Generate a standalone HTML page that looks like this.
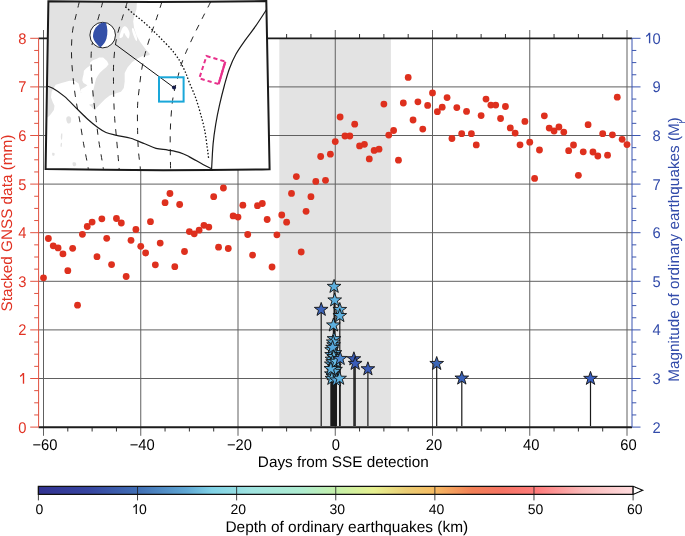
<!DOCTYPE html><html><head><meta charset="utf-8"><style>html,body{margin:0;padding:0;background:#fff}svg{display:block;will-change:transform}text{font-family:"Liberation Sans",sans-serif;text-rendering:geometricPrecision}</style></head><body>
<svg width="685" height="536" viewBox="0 0 685 536">
<rect width="685" height="536" fill="#fff"/>
<rect x="279.3" y="38.30" width="111.60" height="388.80" fill="#e3e3e3"/>
<path d="M38.6,378.50H632 M38.6,329.90H632 M38.6,281.30H632 M38.6,232.70H632 M38.6,184.10H632 M38.6,135.50H632 M38.6,86.90H632 M43.50,30V435.8 M140.75,30V435.8 M238.00,30V435.8 M335.25,30V435.8 M432.50,30V435.8 M529.75,30V435.8 M627.00,30V435.8" stroke="#606060" stroke-width="1" fill="none"/>
<path d="M67.81,427.10V431.5 M67.81,38.30V34 M92.12,427.10V431.5 M92.12,38.30V34 M116.44,427.10V431.5 M116.44,38.30V34 M165.06,427.10V431.5 M165.06,38.30V34 M189.38,427.10V431.5 M189.38,38.30V34 M213.69,427.10V431.5 M213.69,38.30V34 M262.31,427.10V431.5 M262.31,38.30V34 M286.62,427.10V431.5 M286.62,38.30V34 M310.94,427.10V431.5 M310.94,38.30V34 M359.56,427.10V431.5 M359.56,38.30V34 M383.88,427.10V431.5 M383.88,38.30V34 M408.19,427.10V431.5 M408.19,38.30V34 M456.81,427.10V431.5 M456.81,38.30V34 M481.12,427.10V431.5 M481.12,38.30V34 M505.44,427.10V431.5 M505.44,38.30V34 M554.06,427.10V431.5 M554.06,38.30V34 M578.38,427.10V431.5 M578.38,38.30V34 M602.69,427.10V431.5 M602.69,38.30V34" stroke="#333" stroke-width="1" fill="none"/>
<path d="M38.6,427.25H632 M38.6,38.30H632" stroke="#1c1c1c" stroke-width="1.8" fill="none"/>
<path d="M38.6,38.30V427.10 M30.2,427.10H38.6 M34.2,414.95H38.6 M34.2,402.80H38.6 M34.2,390.65H38.6 M30.2,378.50H38.6 M34.2,366.35H38.6 M34.2,354.20H38.6 M34.2,342.05H38.6 M30.2,329.90H38.6 M34.2,317.75H38.6 M34.2,305.60H38.6 M34.2,293.45H38.6 M30.2,281.30H38.6 M34.2,269.15H38.6 M34.2,257.00H38.6 M34.2,244.85H38.6 M30.2,232.70H38.6 M34.2,220.55H38.6 M34.2,208.40H38.6 M34.2,196.25H38.6 M30.2,184.10H38.6 M34.2,171.95H38.6 M34.2,159.80H38.6 M34.2,147.65H38.6 M30.2,135.50H38.6 M34.2,123.35H38.6 M34.2,111.20H38.6 M34.2,99.05H38.6 M30.2,86.90H38.6 M34.2,74.75H38.6 M34.2,62.60H38.6 M34.2,50.45H38.6 M30.2,38.30H38.6" stroke="#e1503f" stroke-width="1" fill="none"/>
<path d="M632,38.30V427.10 M632,427.10H640.5 M632,414.95H636.3 M632,402.80H636.3 M632,390.65H636.3 M632,378.50H640.5 M632,366.35H636.3 M632,354.20H636.3 M632,342.05H636.3 M632,329.90H640.5 M632,317.75H636.3 M632,305.60H636.3 M632,293.45H636.3 M632,281.30H640.5 M632,269.15H636.3 M632,257.00H636.3 M632,244.85H636.3 M632,232.70H640.5 M632,220.55H636.3 M632,208.40H636.3 M632,196.25H636.3 M632,184.10H640.5 M632,171.95H636.3 M632,159.80H636.3 M632,147.65H636.3 M632,135.50H640.5 M632,123.35H636.3 M632,111.20H636.3 M632,99.05H636.3 M632,86.90H640.5 M632,74.75H636.3 M632,62.60H636.3 M632,50.45H636.3 M632,38.30H640.5" stroke="#3b55b0" stroke-width="1" fill="none"/>
<text transform="translate(26.5,432.60) scale(0.95,1)" font-size="15.5" fill="#e13223" text-anchor="end">0</text>
<path d="M23.50,383.70V373.00" stroke="#e13223" stroke-width="1.35" fill="none"/><path d="M23.30,373.30 Q22.30,375.40 20.10,376.30" stroke="#e13223" stroke-width="1.3" fill="none"/>
<text transform="translate(26.5,335.40) scale(0.95,1)" font-size="15.5" fill="#e13223" text-anchor="end">2</text>
<text transform="translate(26.5,286.80) scale(0.95,1)" font-size="15.5" fill="#e13223" text-anchor="end">3</text>
<text transform="translate(26.5,238.20) scale(0.95,1)" font-size="15.5" fill="#e13223" text-anchor="end">4</text>
<text transform="translate(26.5,189.60) scale(0.95,1)" font-size="15.5" fill="#e13223" text-anchor="end">5</text>
<text transform="translate(26.5,141.00) scale(0.95,1)" font-size="15.5" fill="#e13223" text-anchor="end">6</text>
<text transform="translate(26.5,92.40) scale(0.95,1)" font-size="15.5" fill="#e13223" text-anchor="end">7</text>
<text transform="translate(26.5,43.80) scale(0.95,1)" font-size="15.5" fill="#e13223" text-anchor="end">8</text>
<text transform="translate(660.6,432.60) scale(0.95,1)" font-size="15.5" fill="#324baa" text-anchor="end">2</text>
<text transform="translate(660.6,384.00) scale(0.95,1)" font-size="15.5" fill="#324baa" text-anchor="end">3</text>
<text transform="translate(660.6,335.40) scale(0.95,1)" font-size="15.5" fill="#324baa" text-anchor="end">4</text>
<text transform="translate(660.6,286.80) scale(0.95,1)" font-size="15.5" fill="#324baa" text-anchor="end">5</text>
<text transform="translate(660.6,238.20) scale(0.95,1)" font-size="15.5" fill="#324baa" text-anchor="end">6</text>
<text transform="translate(660.6,189.60) scale(0.95,1)" font-size="15.5" fill="#324baa" text-anchor="end">7</text>
<text transform="translate(660.6,141.00) scale(0.95,1)" font-size="15.5" fill="#324baa" text-anchor="end">8</text>
<text transform="translate(660.6,92.40) scale(0.95,1)" font-size="15.5" fill="#324baa" text-anchor="end">9</text>
<text transform="translate(660.6,43.80) scale(0.95,1)" font-size="15.5" fill="#324baa" text-anchor="end">0</text>
<path d="M649.60,43.30V32.80" stroke="#324baa" stroke-width="1.35" fill="none"/><path d="M649.40,33.10 Q648.40,35.50 646.20,36.40" stroke="#324baa" stroke-width="1.3" fill="none"/>
<text transform="translate(44.90,450) scale(0.95,1)" font-size="15.5" fill="#000" text-anchor="middle">&#8722;60</text>
<text transform="translate(142.15,450) scale(0.95,1)" font-size="15.5" fill="#000" text-anchor="middle">&#8722;40</text>
<text transform="translate(239.40,450) scale(0.95,1)" font-size="15.5" fill="#000" text-anchor="middle">&#8722;20</text>
<text transform="translate(335.75,450) scale(0.95,1)" font-size="15.5" fill="#000" text-anchor="middle">0</text>
<text transform="translate(433.90,450) scale(0.95,1)" font-size="15.5" fill="#000" text-anchor="middle">20</text>
<text transform="translate(531.15,450) scale(0.95,1)" font-size="15.5" fill="#000" text-anchor="middle">40</text>
<text transform="translate(628.40,450) scale(0.95,1)" font-size="15.5" fill="#000" text-anchor="middle">60</text>
<text transform="translate(343.3,467.4)" font-size="15.3" fill="#000" text-anchor="middle">Days from SSE detection</text>
<text transform="translate(11.7,223.1) rotate(-90)" font-size="15.3" fill="#e13223" text-anchor="middle">Stacked GNSS data (mm)</text>
<text transform="translate(678.5,249.6) rotate(-90)" font-size="15.3" fill="#324baa" text-anchor="middle">Magnitude of ordinary earthquakes (M<tspan font-size="9.5" dy="5.5" dx="-0.3">j</tspan><tspan dy="-5.5" dx="-1.2">)</tspan></text>
<g fill="#de301e">
<circle cx="43.50" cy="277.80" r="3.4"/>
<circle cx="48.36" cy="238.50" r="3.4"/>
<circle cx="53.23" cy="245.80" r="3.4"/>
<circle cx="58.09" cy="247.90" r="3.4"/>
<circle cx="62.95" cy="253.90" r="3.4"/>
<circle cx="67.81" cy="270.70" r="3.4"/>
<circle cx="72.67" cy="248.30" r="3.4"/>
<circle cx="77.54" cy="305.20" r="3.4"/>
<circle cx="82.40" cy="234.30" r="3.4"/>
<circle cx="87.26" cy="226.50" r="3.4"/>
<circle cx="92.12" cy="222.10" r="3.4"/>
<circle cx="96.99" cy="256.70" r="3.4"/>
<circle cx="101.85" cy="218.80" r="3.4"/>
<circle cx="106.71" cy="238.30" r="3.4"/>
<circle cx="111.58" cy="264.60" r="3.4"/>
<circle cx="116.44" cy="218.50" r="3.4"/>
<circle cx="121.30" cy="223.00" r="3.4"/>
<circle cx="126.16" cy="276.50" r="3.4"/>
<circle cx="131.02" cy="240.30" r="3.4"/>
<circle cx="135.89" cy="229.50" r="3.4"/>
<circle cx="140.75" cy="246.30" r="3.4"/>
<circle cx="145.61" cy="253.00" r="3.4"/>
<circle cx="150.47" cy="221.70" r="3.4"/>
<circle cx="155.34" cy="264.80" r="3.4"/>
<circle cx="160.20" cy="243.10" r="3.4"/>
<circle cx="165.06" cy="202.70" r="3.4"/>
<circle cx="169.93" cy="193.50" r="3.4"/>
<circle cx="174.79" cy="266.70" r="3.4"/>
<circle cx="179.65" cy="204.50" r="3.4"/>
<circle cx="184.51" cy="251.50" r="3.4"/>
<circle cx="189.38" cy="231.60" r="3.4"/>
<circle cx="194.24" cy="233.80" r="3.4"/>
<circle cx="199.10" cy="230.20" r="3.4"/>
<circle cx="203.96" cy="225.30" r="3.4"/>
<circle cx="208.82" cy="227.10" r="3.4"/>
<circle cx="213.69" cy="196.70" r="3.4"/>
<circle cx="218.55" cy="247.20" r="3.4"/>
<circle cx="223.41" cy="188.00" r="3.4"/>
<circle cx="228.28" cy="248.50" r="3.4"/>
<circle cx="233.14" cy="215.90" r="3.4"/>
<circle cx="238.00" cy="217.10" r="3.4"/>
<circle cx="242.86" cy="205.20" r="3.4"/>
<circle cx="247.72" cy="234.50" r="3.4"/>
<circle cx="252.59" cy="255.10" r="3.4"/>
<circle cx="257.45" cy="205.70" r="3.4"/>
<circle cx="262.31" cy="203.50" r="3.4"/>
<circle cx="267.17" cy="219.50" r="3.4"/>
<circle cx="272.04" cy="267.00" r="3.4"/>
<circle cx="276.90" cy="234.80" r="3.4"/>
<circle cx="281.76" cy="215.00" r="3.4"/>
<circle cx="286.62" cy="222.20" r="3.4"/>
<circle cx="291.49" cy="193.40" r="3.4"/>
<circle cx="296.35" cy="176.60" r="3.4"/>
<circle cx="301.21" cy="252.00" r="3.4"/>
<circle cx="306.07" cy="211.30" r="3.4"/>
<circle cx="310.94" cy="196.70" r="3.4"/>
<circle cx="315.80" cy="181.40" r="3.4"/>
<circle cx="320.66" cy="156.50" r="3.4"/>
<circle cx="325.52" cy="180.30" r="3.4"/>
<circle cx="330.39" cy="154.20" r="3.4"/>
<circle cx="335.25" cy="141.60" r="3.4"/>
<circle cx="340.11" cy="117.00" r="3.4"/>
<circle cx="344.97" cy="136.00" r="3.4"/>
<circle cx="349.84" cy="136.00" r="3.4"/>
<circle cx="354.70" cy="124.20" r="3.4"/>
<circle cx="359.56" cy="145.90" r="3.4"/>
<circle cx="364.43" cy="144.30" r="3.4"/>
<circle cx="369.29" cy="158.90" r="3.4"/>
<circle cx="374.15" cy="150.40" r="3.4"/>
<circle cx="379.01" cy="149.20" r="3.4"/>
<circle cx="383.88" cy="104.10" r="3.4"/>
<circle cx="388.74" cy="135.10" r="3.4"/>
<circle cx="393.60" cy="130.50" r="3.4"/>
<circle cx="398.46" cy="160.20" r="3.4"/>
<circle cx="403.32" cy="103.00" r="3.4"/>
<circle cx="408.19" cy="77.40" r="3.4"/>
<circle cx="413.05" cy="120.00" r="3.4"/>
<circle cx="417.91" cy="101.80" r="3.4"/>
<circle cx="422.77" cy="129.10" r="3.4"/>
<circle cx="427.64" cy="105.40" r="3.4"/>
<circle cx="432.50" cy="92.90" r="3.4"/>
<circle cx="437.36" cy="111.70" r="3.4"/>
<circle cx="442.22" cy="107.20" r="3.4"/>
<circle cx="447.09" cy="97.60" r="3.4"/>
<circle cx="451.95" cy="138.50" r="3.4"/>
<circle cx="456.81" cy="107.60" r="3.4"/>
<circle cx="461.68" cy="133.70" r="3.4"/>
<circle cx="466.54" cy="111.40" r="3.4"/>
<circle cx="471.40" cy="133.70" r="3.4"/>
<circle cx="476.26" cy="144.90" r="3.4"/>
<circle cx="481.12" cy="115.60" r="3.4"/>
<circle cx="485.99" cy="99.10" r="3.4"/>
<circle cx="490.85" cy="105.10" r="3.4"/>
<circle cx="495.71" cy="105.10" r="3.4"/>
<circle cx="500.57" cy="118.50" r="3.4"/>
<circle cx="505.44" cy="106.50" r="3.4"/>
<circle cx="510.30" cy="127.90" r="3.4"/>
<circle cx="515.16" cy="133.10" r="3.4"/>
<circle cx="520.02" cy="144.80" r="3.4"/>
<circle cx="524.89" cy="121.40" r="3.4"/>
<circle cx="529.75" cy="142.20" r="3.4"/>
<circle cx="534.61" cy="178.40" r="3.4"/>
<circle cx="539.47" cy="150.00" r="3.4"/>
<circle cx="544.34" cy="115.80" r="3.4"/>
<circle cx="549.20" cy="128.10" r="3.4"/>
<circle cx="554.06" cy="131.00" r="3.4"/>
<circle cx="558.92" cy="127.00" r="3.4"/>
<circle cx="563.79" cy="132.10" r="3.4"/>
<circle cx="568.65" cy="150.70" r="3.4"/>
<circle cx="573.51" cy="145.00" r="3.4"/>
<circle cx="578.38" cy="175.30" r="3.4"/>
<circle cx="583.24" cy="151.80" r="3.4"/>
<circle cx="588.10" cy="124.70" r="3.4"/>
<circle cx="592.96" cy="152.00" r="3.4"/>
<circle cx="597.82" cy="156.00" r="3.4"/>
<circle cx="602.69" cy="133.70" r="3.4"/>
<circle cx="607.55" cy="155.20" r="3.4"/>
<circle cx="612.41" cy="134.80" r="3.4"/>
<circle cx="617.27" cy="97.20" r="3.4"/>
<circle cx="622.14" cy="139.30" r="3.4"/>
<circle cx="627.00" cy="144.60" r="3.4"/>
</g>
<path d="M321.20,309.60V426.10 M339.80,309.70V426.10 M339.80,315.80V426.10 M334.10,286.60V426.10 M334.70,300.20V426.10 M333.40,325.20V426.10 M334.00,338.90V426.10 M333.60,345.00V426.10 M331.60,349.90V426.10 M335.00,352.90V426.10 M331.60,354.80V426.10 M332.00,359.40V426.10 M331.30,364.30V426.10 M334.50,366.50V426.10 M335.50,369.60V426.10 M331.40,374.10V426.10 M333.00,376.50V426.10 M333.20,342.20V426.10 M332.60,347.60V426.10 M333.80,356.80V426.10 M332.60,362.00V426.10 M334.20,371.60V426.10 M331.90,378.60V426.10 M336.40,380.20V426.10 M330.90,368.80V426.10 M336.20,361.50V426.10 M340.20,358.70V426.10 M339.60,378.50V426.10 M353.90,359.00V426.10 M355.20,363.60V426.10 M367.90,369.00V426.10 M436.70,363.70V426.10 M461.80,378.30V426.10 M590.50,378.60V426.10" stroke="#1a1a1a" stroke-width="1.2" fill="none"/>
<path d="M321.20,302.40 L322.88,307.29 L328.05,307.38 L323.91,310.48 L325.43,315.42 L321.20,312.45 L316.97,315.42 L318.49,310.48 L314.35,307.38 L319.52,307.29Z" fill="#3c64b9" stroke="#111" stroke-width="0.9" stroke-linejoin="miter"/>
<path d="M339.80,302.50 L341.48,307.39 L346.65,307.48 L342.51,310.58 L344.03,315.52 L339.80,312.55 L335.57,315.52 L337.09,310.58 L332.95,307.48 L338.12,307.39Z" fill="#5eb0de" stroke="#111" stroke-width="0.9" stroke-linejoin="miter"/>
<path d="M339.80,308.60 L341.48,313.49 L346.65,313.58 L342.51,316.68 L344.03,321.62 L339.80,318.65 L335.57,321.62 L337.09,316.68 L332.95,313.58 L338.12,313.49Z" fill="#5eb0de" stroke="#111" stroke-width="0.9" stroke-linejoin="miter"/>
<path d="M334.10,279.40 L335.78,284.29 L340.95,284.38 L336.81,287.48 L338.33,292.42 L334.10,289.45 L329.87,292.42 L331.39,287.48 L327.25,284.38 L332.42,284.29Z" fill="#5eb0de" stroke="#111" stroke-width="0.9" stroke-linejoin="miter"/>
<path d="M334.70,293.00 L336.38,297.89 L341.55,297.98 L337.41,301.08 L338.93,306.02 L334.70,303.05 L330.47,306.02 L331.99,301.08 L327.85,297.98 L333.02,297.89Z" fill="#5eb0de" stroke="#111" stroke-width="0.9" stroke-linejoin="miter"/>
<path d="M333.40,318.00 L335.08,322.89 L340.25,322.98 L336.11,326.08 L337.63,331.02 L333.40,328.05 L329.17,331.02 L330.69,326.08 L326.55,322.98 L331.72,322.89Z" fill="#5eb0de" stroke="#111" stroke-width="0.9" stroke-linejoin="miter"/>
<path d="M334.00,331.70 L335.68,336.59 L340.85,336.68 L336.71,339.78 L338.23,344.72 L334.00,341.75 L329.77,344.72 L331.29,339.78 L327.15,336.68 L332.32,336.59Z" fill="#5eb0de" stroke="#111" stroke-width="0.9" stroke-linejoin="miter"/>
<path d="M333.60,337.80 L335.28,342.69 L340.45,342.78 L336.31,345.88 L337.83,350.82 L333.60,347.85 L329.37,350.82 L330.89,345.88 L326.75,342.78 L331.92,342.69Z" fill="#56a6da" stroke="#111" stroke-width="0.9" stroke-linejoin="miter"/>
<path d="M331.60,342.70 L333.28,347.59 L338.45,347.68 L334.31,350.78 L335.83,355.72 L331.60,352.75 L327.37,355.72 L328.89,350.78 L324.75,347.68 L329.92,347.59Z" fill="#66bae4" stroke="#111" stroke-width="0.9" stroke-linejoin="miter"/>
<path d="M335.00,345.70 L336.68,350.59 L341.85,350.68 L337.71,353.78 L339.23,358.72 L335.00,355.75 L330.77,358.72 L332.29,353.78 L328.15,350.68 L333.32,350.59Z" fill="#5eb0de" stroke="#111" stroke-width="0.9" stroke-linejoin="miter"/>
<path d="M331.60,347.60 L333.28,352.49 L338.45,352.58 L334.31,355.68 L335.83,360.62 L331.60,357.65 L327.37,360.62 L328.89,355.68 L324.75,352.58 L329.92,352.49Z" fill="#56a6da" stroke="#111" stroke-width="0.9" stroke-linejoin="miter"/>
<path d="M332.00,352.20 L333.68,357.09 L338.85,357.18 L334.71,360.28 L336.23,365.22 L332.00,362.25 L327.77,365.22 L329.29,360.28 L325.15,357.18 L330.32,357.09Z" fill="#66bae4" stroke="#111" stroke-width="0.9" stroke-linejoin="miter"/>
<path d="M331.30,357.10 L332.98,361.99 L338.15,362.08 L334.01,365.18 L335.53,370.12 L331.30,367.15 L327.07,370.12 L328.59,365.18 L324.45,362.08 L329.62,361.99Z" fill="#5eb0de" stroke="#111" stroke-width="0.9" stroke-linejoin="miter"/>
<path d="M334.50,359.30 L336.18,364.19 L341.35,364.28 L337.21,367.38 L338.73,372.32 L334.50,369.35 L330.27,372.32 L331.79,367.38 L327.65,364.28 L332.82,364.19Z" fill="#56a6da" stroke="#111" stroke-width="0.9" stroke-linejoin="miter"/>
<path d="M335.50,362.40 L337.18,367.29 L342.35,367.38 L338.21,370.48 L339.73,375.42 L335.50,372.45 L331.27,375.42 L332.79,370.48 L328.65,367.38 L333.82,367.29Z" fill="#66bae4" stroke="#111" stroke-width="0.9" stroke-linejoin="miter"/>
<path d="M331.40,366.90 L333.08,371.79 L338.25,371.88 L334.11,374.98 L335.63,379.92 L331.40,376.95 L327.17,379.92 L328.69,374.98 L324.55,371.88 L329.72,371.79Z" fill="#56a6da" stroke="#111" stroke-width="0.9" stroke-linejoin="miter"/>
<path d="M333.00,369.30 L334.68,374.19 L339.85,374.28 L335.71,377.38 L337.23,382.32 L333.00,379.35 L328.77,382.32 L330.29,377.38 L326.15,374.28 L331.32,374.19Z" fill="#5eb0de" stroke="#111" stroke-width="0.9" stroke-linejoin="miter"/>
<path d="M333.20,335.00 L334.88,339.89 L340.05,339.98 L335.91,343.08 L337.43,348.02 L333.20,345.05 L328.97,348.02 L330.49,343.08 L326.35,339.98 L331.52,339.89Z" fill="#5eb0de" stroke="#111" stroke-width="0.9" stroke-linejoin="miter"/>
<path d="M332.60,340.40 L334.28,345.29 L339.45,345.38 L335.31,348.48 L336.83,353.42 L332.60,350.45 L328.37,353.42 L329.89,348.48 L325.75,345.38 L330.92,345.29Z" fill="#56a6da" stroke="#111" stroke-width="0.9" stroke-linejoin="miter"/>
<path d="M333.80,349.60 L335.48,354.49 L340.65,354.58 L336.51,357.68 L338.03,362.62 L333.80,359.65 L329.57,362.62 L331.09,357.68 L326.95,354.58 L332.12,354.49Z" fill="#66bae4" stroke="#111" stroke-width="0.9" stroke-linejoin="miter"/>
<path d="M332.60,354.80 L334.28,359.69 L339.45,359.78 L335.31,362.88 L336.83,367.82 L332.60,364.85 L328.37,367.82 L329.89,362.88 L325.75,359.78 L330.92,359.69Z" fill="#56a6da" stroke="#111" stroke-width="0.9" stroke-linejoin="miter"/>
<path d="M334.20,364.40 L335.88,369.29 L341.05,369.38 L336.91,372.48 L338.43,377.42 L334.20,374.45 L329.97,377.42 L331.49,372.48 L327.35,369.38 L332.52,369.29Z" fill="#5eb0de" stroke="#111" stroke-width="0.9" stroke-linejoin="miter"/>
<path d="M331.90,371.40 L333.58,376.29 L338.75,376.38 L334.61,379.48 L336.13,384.42 L331.90,381.45 L327.67,384.42 L329.19,379.48 L325.05,376.38 L330.22,376.29Z" fill="#66bae4" stroke="#111" stroke-width="0.9" stroke-linejoin="miter"/>
<path d="M336.40,373.00 L338.08,377.89 L343.25,377.98 L339.11,381.08 L340.63,386.02 L336.40,383.05 L332.17,386.02 L333.69,381.08 L329.55,377.98 L334.72,377.89Z" fill="#56a6da" stroke="#111" stroke-width="0.9" stroke-linejoin="miter"/>
<path d="M330.90,361.60 L332.58,366.49 L337.75,366.58 L333.61,369.68 L335.13,374.62 L330.90,371.65 L326.67,374.62 L328.19,369.68 L324.05,366.58 L329.22,366.49Z" fill="#5eb0de" stroke="#111" stroke-width="0.9" stroke-linejoin="miter"/>
<path d="M336.20,354.30 L337.88,359.19 L343.05,359.28 L338.91,362.38 L340.43,367.32 L336.20,364.35 L331.97,367.32 L333.49,362.38 L329.35,359.28 L334.52,359.19Z" fill="#66bae4" stroke="#111" stroke-width="0.9" stroke-linejoin="miter"/>
<path d="M340.20,351.50 L341.88,356.39 L347.05,356.48 L342.91,359.58 L344.43,364.52 L340.20,361.55 L335.97,364.52 L337.49,359.58 L333.35,356.48 L338.52,356.39Z" fill="#4a88d0" stroke="#111" stroke-width="0.9" stroke-linejoin="miter"/>
<path d="M339.60,371.30 L341.28,376.19 L346.45,376.28 L342.31,379.38 L343.83,384.32 L339.60,381.35 L335.37,384.32 L336.89,379.38 L332.75,376.28 L337.92,376.19Z" fill="#5eb0de" stroke="#111" stroke-width="0.9" stroke-linejoin="miter"/>
<path d="M353.90,351.80 L355.58,356.69 L360.75,356.78 L356.61,359.88 L358.13,364.82 L353.90,361.85 L349.67,364.82 L351.19,359.88 L347.05,356.78 L352.22,356.69Z" fill="#3a5cb8" stroke="#111" stroke-width="0.9" stroke-linejoin="miter"/>
<path d="M355.20,356.40 L356.88,361.29 L362.05,361.38 L357.91,364.48 L359.43,369.42 L355.20,366.45 L350.97,369.42 L352.49,364.48 L348.35,361.38 L353.52,361.29Z" fill="#3a5cb8" stroke="#111" stroke-width="0.9" stroke-linejoin="miter"/>
<path d="M367.90,361.80 L369.58,366.69 L374.75,366.78 L370.61,369.88 L372.13,374.82 L367.90,371.85 L363.67,374.82 L365.19,369.88 L361.05,366.78 L366.22,366.69Z" fill="#3a5cb8" stroke="#111" stroke-width="0.9" stroke-linejoin="miter"/>
<path d="M436.70,356.50 L438.38,361.39 L443.55,361.48 L439.41,364.58 L440.93,369.52 L436.70,366.55 L432.47,369.52 L433.99,364.58 L429.85,361.48 L435.02,361.39Z" fill="#3e68b8" stroke="#111" stroke-width="0.9" stroke-linejoin="miter"/>
<path d="M461.80,371.10 L463.48,375.99 L468.65,376.08 L464.51,379.18 L466.03,384.12 L461.80,381.15 L457.57,384.12 L459.09,379.18 L454.95,376.08 L460.12,375.99Z" fill="#3a62b8" stroke="#111" stroke-width="0.9" stroke-linejoin="miter"/>
<path d="M590.50,371.40 L592.18,376.29 L597.35,376.38 L593.21,379.48 L594.73,384.42 L590.50,381.45 L586.27,384.42 L587.79,379.48 L583.65,376.38 L588.82,376.29Z" fill="#3a5fc0" stroke="#111" stroke-width="0.9" stroke-linejoin="miter"/>
<defs><linearGradient id="cb" x1="0" x2="1" y1="0" y2="0">
<stop offset="0.0027" stop-color="#323392"/>
<stop offset="0.0834" stop-color="#3644a0"/>
<stop offset="0.1658" stop-color="#406eb4"/>
<stop offset="0.2499" stop-color="#60a8d4"/>
<stop offset="0.2919" stop-color="#80d2e6"/>
<stop offset="0.3592" stop-color="#a0e4e0"/>
<stop offset="0.4432" stop-color="#aeecd0"/>
<stop offset="0.5038" stop-color="#c6f0a8"/>
<stop offset="0.5643" stop-color="#e6f090"/>
<stop offset="0.6198" stop-color="#eacc74"/>
<stop offset="0.6618" stop-color="#f6be64"/>
<stop offset="0.7291" stop-color="#f28056"/>
<stop offset="0.7796" stop-color="#f67464"/>
<stop offset="0.8384" stop-color="#ff7c7c"/>
<stop offset="0.9141" stop-color="#fab8b8"/>
<stop offset="0.9914" stop-color="#fed8da"/>
</linearGradient></defs>
<rect x="38.4" y="486.6" width="594.70" height="7.4" fill="url(#cb)"/>
<path d="M38.40,486.6V500.4 M137.52,486.6V500.4 M236.63,486.6V500.4 M335.75,486.6V500.4 M434.87,486.6V500.4 M533.98,486.6V500.4 M633.10,486.6V500.4" stroke="#222" stroke-width="1" fill="none" opacity="0.85"/>
<path d="M38.4,486.3H633.1 L642.5,490.3 L633.1,494.3 H38.4 Z" fill="none" stroke="#111" stroke-width="1.3"/>
<path d="M633.1,486.9 L641,490.3 L633.1,493.7Z" fill="#fff"/>
<path d="M633.1,486.3V494.3" stroke="#111" stroke-width="1.3"/>
<text x="39.40" y="513.9" font-size="14" fill="#000" text-anchor="middle">0</text>
<text x="146.9" y="513.9" font-size="14" fill="#000" text-anchor="end">0</text>
<path d="M136.30,513.90V504.20" stroke="#111" stroke-width="1.25" fill="none"/><path d="M136.10,504.50 Q135.10,506.40 133.30,507.30" stroke="#111" stroke-width="1.2" fill="none"/>
<text x="238.23" y="513.9" font-size="14" fill="#000" text-anchor="middle">20</text>
<text x="337.35" y="513.9" font-size="14" fill="#000" text-anchor="middle">30</text>
<text x="436.47" y="513.9" font-size="14" fill="#000" text-anchor="middle">40</text>
<text x="535.58" y="513.9" font-size="14" fill="#000" text-anchor="middle">50</text>
<text x="634.70" y="513.9" font-size="14" fill="#000" text-anchor="middle">60</text>
<text transform="translate(346.8,532.3)" font-size="15.45" fill="#000" text-anchor="middle">Depth of ordinary earthquakes (km)</text>
<defs><clipPath id="mc"><path d="M48.4,1.2 Q157.35,2.85 266.3,1.1 L269.6,169.3 Q157.6,171.2 45.6,169.1 Z"/></clipPath></defs>
<path d="M48.4,1.2 Q157.35,2.85 266.3,1.1 L269.6,169.3 Q157.6,171.2 45.6,169.1 Z" fill="#fff"/>
<g clip-path="url(#mc)">
<path d="M40.0,-5.0 L137.5,-5.0 L136.9,2.0 L136.5,9.3 L134.1,15.9 L133.2,21.5 L134.1,28.0 L136.5,35.4 L140.2,42.0 L145.8,49.4 L150.1,54.2 L148.2,55.6 L142.6,56.0 L137.1,58.8 L132.2,61.9 L127.5,67.5 L124.7,73.0 L124.7,81.4 L123.8,88.0 L121.0,91.7 L115.4,93.6 L109.8,95.4 L105.2,99.1 L100.5,103.8 L96.8,107.5 L94.0,109.4 L91.2,106.6 L88.9,104.7 L93.0,103.8 L94.0,101.0 L92.1,96.0 L92.5,91.6 L93.7,88.5 L94.8,83.8 L96.0,79.1 L97.6,75.9 L99.9,72.8 L103.1,69.7 L106.2,67.3 L108.6,64.2 L107.0,61.1 L103.1,57.5 L99.2,57.5 L96.8,58.7 L92.9,60.3 L90.1,62.6 L89.8,65.8 L86.6,68.1 L83.9,70.8 L83.5,74.4 L82.7,77.5 L82.3,80.6 L83.5,83.0 L87.4,85.3 L85.1,86.9 L81.1,89.3 L80.7,92.4 L81.5,93.3 L80.3,90.0 L78.6,83.5 L75.2,81.3 L69.6,80.7 L61.5,82.9 L55.7,84.7 L51.6,91.7 L51.0,97.5 L52.8,102.2 L54.5,105.7 L53.9,110.0 L50.6,114.5 L47.8,117.3 L40.0,118.0Z" fill="#e2e2e2"/>
<path d="M119.50,37.50 C119.33,36.33 120.75,31.83 121.50,30.00 C122.25,28.17 123.08,26.92 124.00,26.50 C124.92,26.08 126.07,26.42 127.00,27.50 C127.93,28.58 129.35,31.17 129.60,33.00 C129.85,34.83 129.10,38.00 128.50,38.50 C127.90,39.00 126.75,36.92 126.00,36.00 C125.25,35.08 124.58,32.83 124.00,33.00 C123.42,33.17 123.25,36.25 122.50,37.00 C121.75,37.75 119.67,38.67 119.50,37.50Z" fill="#fff"/>
<path d="M132.00,29.00 C132.08,28.08 132.75,27.33 133.50,28.50 C134.25,29.67 135.92,34.00 136.50,36.00 C137.08,38.00 137.17,39.83 137.00,40.50 C136.83,41.17 136.17,41.08 135.50,40.00 C134.83,38.92 133.58,35.83 133.00,34.00 C132.42,32.17 131.92,29.92 132.00,29.00Z" fill="#fff"/>
<path d="M66.50,117.50 C66.98,116.73 68.73,116.23 69.50,116.40 C70.27,116.57 70.92,117.48 71.10,118.50 C71.28,119.52 71.12,121.68 70.60,122.50 C70.08,123.32 68.67,123.65 68.00,123.40 C67.33,123.15 66.85,121.98 66.60,121.00 C66.35,120.02 66.02,118.27 66.50,117.50Z" fill="#e2e2e2"/>
<path d="M61.30,133.70 C61.55,133.15 62.15,132.98 62.30,133.70 C62.45,134.42 62.33,136.95 62.20,138.00 C62.07,139.05 61.73,140.17 61.50,140.00 C61.27,139.83 60.83,138.05 60.80,137.00 C60.77,135.95 61.05,134.25 61.30,133.70Z" fill="#e2e2e2"/>
<path d="M61.00,143.00 C61.25,142.58 61.92,142.83 62.00,143.50 C62.08,144.17 61.75,146.58 61.50,147.00 C61.25,147.42 60.58,146.67 60.50,146.00 C60.42,145.33 60.75,143.42 61.00,143.00Z" fill="#e2e2e2"/>
<path d="M52.30,152.80 C52.63,152.42 54.17,152.75 54.50,153.20 C54.83,153.65 54.63,155.12 54.30,155.50 C53.97,155.88 52.83,155.95 52.50,155.50 C52.17,155.05 51.97,153.18 52.30,152.80Z" fill="#e2e2e2"/>
<path d="M72.80,162.60 C73.25,162.13 74.93,162.10 75.50,162.50 C76.07,162.90 76.37,164.37 76.20,165.00 C76.03,165.63 75.07,166.25 74.50,166.30 C73.93,166.35 73.08,165.92 72.80,165.30 C72.52,164.68 72.35,163.07 72.80,162.60Z" fill="#e2e2e2"/>
<path d="M79.40,1.50 C78.85,3.77 77.22,10.32 76.10,15.10 C74.98,19.88 73.47,24.88 72.70,30.20 C71.93,35.52 71.63,41.40 71.50,47.00 C71.37,52.60 71.57,58.02 71.90,63.80 C72.23,69.58 72.95,76.48 73.50,81.70 C74.05,86.92 74.50,90.35 75.20,95.10 C75.90,99.85 76.85,105.43 77.70,110.20 C78.55,114.97 79.32,118.10 80.30,123.70 C81.28,129.30 82.35,136.82 83.60,143.80 C84.85,150.78 87.03,161.23 87.80,165.60 C88.57,169.97 88.13,169.27 88.20,170.00" fill="none" stroke="#222" stroke-width="1" stroke-dasharray="6.2,6.7"/>
<path d="M102.90,1.50 C102.20,4.05 100.02,12.05 98.70,16.80 C97.38,21.55 96.03,25.80 95.00,30.00 C93.97,34.20 93.13,38.05 92.50,42.00 C91.87,45.95 91.42,49.50 91.20,53.70 C90.98,57.90 91.07,62.53 91.20,67.20 C91.33,71.87 91.58,76.22 92.00,81.70 C92.42,87.18 93.00,93.67 93.70,100.10 C94.40,106.53 95.37,113.58 96.20,120.30 C97.03,127.02 97.58,132.85 98.70,140.40 C99.82,147.95 102.13,160.67 102.90,165.60 C103.67,170.53 103.23,169.27 103.30,170.00" fill="none" stroke="#222" stroke-width="1" stroke-dasharray="6.2,6.7"/>
<path d="M127.30,2.00 C126.45,4.75 123.88,12.95 122.20,18.50 C120.52,24.05 118.45,29.98 117.20,35.30 C115.95,40.62 115.32,45.08 114.70,50.40 C114.08,55.72 113.70,61.98 113.50,67.20 C113.30,72.42 113.45,76.22 113.50,81.70 C113.55,87.18 113.60,93.95 113.80,100.10 C114.00,106.25 114.27,112.43 114.70,118.60 C115.13,124.77 115.70,129.27 116.40,137.10 C117.10,144.93 118.47,160.12 118.90,165.60 C119.33,171.08 118.98,169.27 119.00,170.00" fill="none" stroke="#222" stroke-width="1" stroke-dasharray="6.2,6.7"/>
<path d="M161.90,2.00 C160.92,5.02 157.97,14.28 156.00,20.10 C154.03,25.92 151.92,31.30 150.10,36.90 C148.28,42.50 146.48,48.38 145.10,53.70 C143.72,59.02 142.72,63.48 141.80,68.80 C140.88,74.12 140.30,79.53 139.60,85.60 C138.90,91.67 137.93,97.73 137.60,105.20 C137.27,112.67 137.47,122.85 137.60,130.40 C137.73,137.95 137.98,144.63 138.40,150.50 C138.82,156.37 139.78,162.35 140.10,165.60 C140.42,168.85 140.27,169.27 140.30,170.00" fill="none" stroke="#222" stroke-width="1" stroke-dasharray="6.2,6.7"/>
<path d="M210.60,2.00 C209.20,4.75 205.00,12.95 202.20,18.50 C199.40,24.05 196.60,29.43 193.80,35.30 C191.00,41.17 187.63,48.38 185.40,53.70 C183.17,59.02 181.80,62.72 180.40,67.20 C179.00,71.68 177.98,76.80 177.00,80.60 C176.02,84.40 175.33,85.90 174.50,90.00 C173.67,94.10 172.70,98.47 172.00,105.20 C171.30,111.93 170.58,122.57 170.30,130.40 C170.02,138.23 170.25,145.60 170.30,152.20 C170.35,158.80 170.55,167.03 170.60,170.00" fill="none" stroke="#222" stroke-width="1" stroke-dasharray="6.2,6.7"/>
<path d="M125.70,7.00 C127.03,8.17 130.82,11.58 133.70,14.00 C136.58,16.42 139.90,18.85 143.00,21.50 C146.10,24.15 149.20,26.95 152.30,29.90 C155.40,32.85 158.48,36.02 161.60,39.20 C164.72,42.38 168.52,46.20 171.00,49.00 C173.48,51.80 174.93,53.82 176.50,56.00 C178.07,58.18 178.92,59.40 180.40,62.10 C181.88,64.80 183.88,68.72 185.40,72.20 C186.92,75.68 187.85,78.90 189.50,83.00 C191.15,87.10 193.47,91.70 195.30,96.80 C197.13,101.90 198.93,108.00 200.50,113.60 C202.07,119.20 203.58,124.80 204.70,130.40 C205.82,136.00 206.55,142.58 207.20,147.20 C207.85,151.82 208.37,156.28 208.60,158.10" fill="none" stroke="#111" stroke-width="1.3" stroke-dasharray="1.5,1.9"/>
<path d="M44.50,85.30 C45.88,85.78 49.48,86.35 52.80,88.20 C56.12,90.05 60.37,92.97 64.40,96.40 C68.43,99.83 73.07,104.95 77.00,108.80 C80.93,112.65 84.58,116.42 88.00,119.50 C91.42,122.58 94.50,125.13 97.50,127.30 C100.50,129.47 102.80,131.17 106.00,132.50 C109.20,133.83 112.58,134.33 116.70,135.30 C120.82,136.27 126.03,136.88 130.70,138.30 C135.37,139.72 140.48,142.13 144.70,143.80 C148.92,145.47 152.12,147.25 156.00,148.30 C159.88,149.35 164.00,149.38 168.00,150.10 C172.00,150.82 176.50,151.52 180.00,152.60 C183.50,153.68 185.17,154.62 189.00,156.60 C192.83,158.58 199.33,162.52 203.00,164.50 C206.67,166.48 209.67,167.83 211.00,168.50" fill="none" stroke="#1a1a1a" stroke-width="1.2"/>
<path d="M267.20,8.60 C265.27,11.53 259.17,21.08 255.60,26.20 C252.03,31.32 249.07,34.67 245.80,39.30 C242.53,43.93 238.73,49.10 236.00,54.00 C233.27,58.90 231.32,63.53 229.40,68.70 C227.48,73.87 226.13,79.00 224.50,85.00 C222.87,91.00 221.07,98.15 219.60,104.70 C218.13,111.25 216.78,117.77 215.70,124.30 C214.62,130.83 213.78,136.45 213.10,143.90 C212.42,151.35 211.85,164.82 211.60,169.00" fill="none" stroke="#1a1a1a" stroke-width="1.2"/>
<path d="M115.5,44.5L174,87.6" stroke="#111" stroke-width="1"/>
<rect x="159" y="77.3" width="24.6" height="24.3" fill="none" stroke="#1aa7d9" stroke-width="2"/>
<circle cx="174" cy="87.6" r="2" fill="#161c4a"/>
<path d="M206.5,56 L225.3,61.6 L218.6,84.1 L199.3,78.4 Z" fill="none" stroke="#e8318c" stroke-width="2" stroke-dasharray="4.2,3"/>
<path d="M225.3,61.6 L218.6,84.1" fill="none" stroke="#e8318c" stroke-width="2.2"/>
<circle cx="102.7" cy="35.1" r="12.8" fill="#fff" stroke="#222" stroke-width="1"/>
<path transform="translate(102.7,35.1)" d="M-1,-12.4 L3,-12.6 C5,-8 5.2,-2 3.8,3.4 C3,6 1.5,9 -2.4,12.3 C-6,9.5 -9.5,5 -9.7,1.5 C-9.8,-3.5 -7.5,-9 -1,-12.4Z" fill="#3450a8"/>
</g>
<path d="M48.4,1.2 Q157.35,2.85 266.3,1.1 L269.6,169.3 Q157.6,171.2 45.6,169.1 Z" fill="none" stroke="#1a1a1a" stroke-width="2"/>
</svg></body></html>
